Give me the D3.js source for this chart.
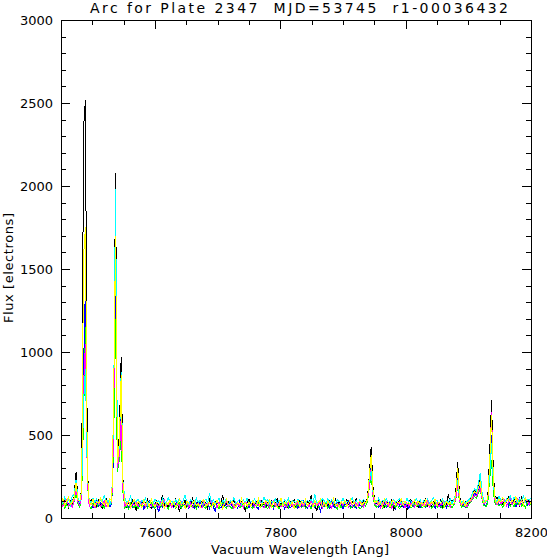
<!DOCTYPE html>
<html>
<head>
<meta charset="utf-8">
<script src="https://cdn.jsdelivr.net/npm/d3@7"></script>
<style>
body { margin: 0; background: #fff; }
svg text { font-family: "DejaVu Sans", sans-serif; fill: #000; white-space: pre; }
</style>
</head>
<body>
<script>
// wavelength grid [Ang]
var wave = [
  7450,7453,7456,7459,7462,7465,7468,7471,7474,7477,
  7480,7483,7486,7489,7492,7495,7498,7501,7504,7507,
  7510,7513,7516,7519,7522,7525,7528,7531,7534,7537,
  7540,7543,7546,7549,7552,7555,7558,7561,7564,7567,
  7570,7573,7576,7579,7582,7585,7588,7591,7594,7597,
  7600,7603,7606,7609,7612,7615,7618,7621,7624,7627,
  7630,7633,7636,7639,7642,7645,7648,7651,7654,7657,
  7660,7663,7666,7669,7672,7675,7678,7681,7684,7687,
  7690,7693,7696,7699,7702,7705,7708,7711,7714,7717,
  7720,7723,7726,7729,7732,7735,7738,7741,7744,7747,
  7750,7753,7756,7759,7762,7765,7768,7771,7774,7777,
  7780,7783,7786,7789,7792,7795,7798,7801,7804,7807,
  7810,7813,7816,7819,7822,7825,7828,7831,7834,7837,
  7840,7843,7846,7849,7852,7855,7858,7861,7864,7867,
  7870,7873,7876,7879,7882,7885,7888,7891,7894,7897,
  7900,7903,7906,7909,7912,7915,7918,7921,7924,7927,
  7930,7933,7936,7939,7942,7945,7948,7951,7954,7957,
  7960,7963,7966,7969,7972,7975,7978,7981,7984,7987,
  7990,7993,7996,7999,8002,8005,8008,8011,8014,8017,
  8020,8023,8026,8029,8032,8035,8038,8041,8044,8047,
  8050,8053,8056,8059,8062,8065,8068,8071,8074,8077,
  8080,8083,8086,8089,8092,8095,8098,8101,8104,8107,
  8110,8113,8116,8119,8122,8125,8128,8131,8134,8137,
  8140,8143,8146,8149,8152,8155,8158,8161,8164,8167,
  8170,8173,8176,8179,8182,8185,8188,8191,8194,8197,
  8200
];

// flux per fiber colour [electrons]
var fluxBlack = [
  95,72,118,88,64,102,85,130,275,120,
  92,180,2350,2520,300,86,110,74,96,68,
  104,82,58,90,115,78,92,110,600,2080,
  350,500,970,220,88,62,95,70,108,84,
  42,92,77,101,66,88,112,73,59,94,
  80,105,68,86,138,74,90,61,98,83,
  70,114,88,38,96,79,107,65,91,84,
  118,72,60,99,86,104,69,93,58,110,
  82,76,101,64,95,87,140,70,84,97,
  61,89,106,75,92,68,100,83,44,94,
  112,78,86,65,99,91,73,108,80,62,
  95,87,104,70,83,116,66,92,79,101,
  74,58,97,88,110,69,85,103,77,92,
  64,100,81,135,72,90,40,96,84,107,
  78,93,66,102,87,71,114,80,98,63,
  91,76,108,84,69,99,88,117,73,94,
  82,104,96,120,260,430,180,100,86,112,
  75,94,68,101,88,79,115,45,97,84,
  106,71,90,83,43,98,112,77,93,86,
  67,102,80,95,118,74,89,63,100,85,
  92,78,109,70,96,84,142,88,106,100,
  160,340,130,90,76,98,84,110,120,150,
  170,150,200,240,140,100,92,120,380,710,
  260,110,126,98,115,84,105,92,130,78,
  96,118,85,102,74,124,90,108,81,113,
  95
];
var fluxBlue = [
  78,104,66,92,85,70,112,110,200,100,
  84,150,900,1400,250,75,98,62,88,107,
  71,93,80,58,102,86,67,90,400,1400,
  300,400,750,180,72,94,58,81,66,99,
  85,62,74,96,53,80,69,103,77,60,
  92,71,38,84,66,97,75,52,88,70,
  63,86,99,72,60,91,68,80,55,94,
  74,57,89,67,102,64,83,71,96,59,
  87,68,40,90,76,61,82,98,65,73,
  95,70,62,86,58,101,74,66,89,77,
  60,93,71,84,67,55,96,79,63,88,
  72,64,90,57,81,75,99,68,86,54,
  97,78,61,73,66,92,59,84,70,101,
  82,57,76,69,95,63,88,74,41,90,
  67,85,79,58,98,71,62,93,76,84,
  55,89,68,100,73,64,81,59,96,75,
  70,92,85,100,200,330,140,80,97,64,
  88,72,95,61,79,104,66,83,57,91,
  74,98,63,86,70,59,93,77,68,82,
  96,60,84,73,65,99,71,87,78,58,
  83,95,66,89,74,62,90,69,101,80,
  130,260,110,70,88,64,92,90,100,130,
  150,140,170,200,120,80,73,100,300,500,
  200,90,104,76,93,118,82,99,71,110,
  86,102,69,94,120,78,88,107,73,96,
  84
];
var fluxGreen = [
  70,92,58,84,66,98,75,100,150,88,
  64,140,600,1150,220,72,55,86,78,61,
  90,67,74,59,95,70,83,85,450,1200,
  280,350,500,150,61,76,52,88,70,64,
  79,57,90,68,74,85,60,77,93,66,
  58,82,71,63,89,67,76,54,85,72,
  88,61,75,92,57,80,69,64,86,73,
  62,78,55,84,70,91,66,59,81,68,
  75,87,63,71,56,83,92,67,60,79,
  69,54,80,73,88,62,70,85,66,58,
  84,66,59,77,70,89,61,74,92,65,
  57,80,72,63,86,68,55,82,71,88,
  78,62,91,67,74,59,83,70,64,86,
  60,75,84,56,80,71,93,63,77,68,
  73,89,58,76,65,82,70,54,87,62,
  81,67,74,90,59,78,64,85,72,56,
  66,84,71,95,180,260,120,75,63,80,
  92,58,76,69,84,61,88,72,66,79,
  57,73,85,64,78,90,62,70,83,68,
  76,86,59,74,67,81,93,60,71,87,
  64,79,70,56,88,73,67,84,62,80,
  110,190,95,66,72,85,60,85,95,115,
  130,120,150,170,110,75,68,90,230,350,
  150,80,95,72,86,64,100,79,91,70,
  88,67,96,78,105,71,84,62,93,76,
  82
];
var fluxMagenta = [
  82,68,97,110,74,90,64,105,180,95,
  77,130,800,1050,230,68,92,80,60,88,
  99,72,85,106,66,93,80,95,500,1900,
  300,380,600,160,70,89,97,60,84,76,
  92,70,103,79,88,64,97,83,71,100,
  75,86,62,95,78,108,69,90,81,64,
  87,76,92,68,101,83,74,96,62,89,
  66,93,79,88,72,60,99,82,75,91,
  102,74,87,63,94,80,70,89,97,68,
  78,90,58,96,83,72,88,61,99,85,
  71,84,97,66,90,78,103,70,59,93,
  86,62,79,100,73,94,81,67,91,77,
  64,95,88,70,84,76,98,63,87,72,
  93,80,67,101,78,90,74,85,96,61,
  88,72,94,83,60,97,79,69,86,92,
  76,99,84,65,91,73,102,86,70,95,
  89,67,93,105,190,300,130,85,74,98,
  64,90,81,96,70,87,58,94,83,75,
  97,79,88,62,93,72,84,100,69,91,
  80,94,71,86,77,103,65,90,82,73,
  95,68,88,79,97,74,85,63,92,85,
  120,200,105,75,90,81,70,95,105,120,
  140,130,160,180,115,85,96,105,300,640,
  210,95,80,103,88,97,112,74,96,121,
  83,99,90,115,76,104,87,95,110,80,
  98
];
var fluxCyan = [
  104,86,125,97,112,80,135,140,230,118,
  96,160,700,900,260,108,88,120,94,116,
  83,110,99,140,90,105,78,115,650,1980,
  380,420,880,210,118,95,100,132,86,103,
  97,115,84,106,92,120,78,99,110,88,
  113,90,104,79,118,96,86,125,94,101,
  82,108,97,116,88,103,138,90,81,112,
  99,85,119,94,107,80,96,114,89,150,
  93,111,87,100,120,84,106,95,116,79,
  104,97,123,88,99,113,82,109,94,118,
  86,102,95,117,81,108,99,90,126,97,
  110,84,101,93,115,89,105,97,83,112,
  95,119,87,104,100,92,114,80,107,99,
  88,106,96,112,90,146,85,101,97,115,
  103,91,117,86,109,96,82,111,99,94,
  118,87,100,95,106,121,90,103,84,110,
  98,113,92,110,240,280,150,105,91,120,
  86,107,99,116,93,102,84,111,97,105,
  114,90,101,88,120,96,108,83,99,117,
  93,110,86,104,97,115,89,102,125,94,
  108,88,99,114,91,106,95,118,87,110,
  150,230,115,95,104,88,100,112,125,160,
  175,160,210,270,150,105,97,118,260,450,
  200,112,99,130,105,122,94,116,108,135,
  99,125,110,92,118,104,131,96,114,107,
  120
];
var fluxYellow = [
  88,115,74,100,126,82,96,120,210,110,
  102,170,1580,1750,280,94,81,113,70,99,
  86,120,93,76,108,64,117,100,700,1700,
  330,450,860,200,96,78,104,65,91,110,
  73,99,86,62,108,80,95,70,116,83,
  67,96,88,74,103,59,91,82,107,76,
  99,65,84,110,78,93,57,101,86,72,
  90,105,76,84,63,98,112,70,88,95,
  64,93,80,106,71,97,58,86,110,79,
  84,100,73,65,94,81,118,76,92,69,
  98,70,105,88,77,113,64,91,85,104,
  79,109,68,97,90,62,86,120,74,93,
  86,101,77,95,58,88,107,72,96,83,
  110,74,92,86,67,103,80,94,115,71,
  95,68,104,81,90,117,76,87,66,100,
  83,106,72,94,112,80,97,68,89,102,
  76,94,88,110,250,380,160,90,105,82,
  97,70,112,85,92,66,99,108,78,94,
  88,116,74,100,84,95,69,90,106,77,
  102,83,93,67,110,89,76,98,85,114,
  73,96,87,104,68,100,82,93,78,90,
  140,300,120,80,101,72,94,100,110,140,
  160,150,180,220,130,90,104,110,330,620,
  230,100,88,112,96,125,80,103,117,92,
  108,84,130,97,89,111,76,120,94,102,
  88
];

var seriesColors = ["#000000", "#0000ff", "#00ff00", "#ff00ff", "#00ffff", "#ffff00"];
var seriesFlux = [fluxBlack, fluxBlue, fluxGreen, fluxMagenta, fluxCyan, fluxYellow];

var xMajorTicks = [7600, 7800, 8000, 8200];
var xMinorTicks = [7500, 7550, 7650, 7700, 7750, 7850, 7900, 7950, 8050, 8100, 8150];
var yMajorTicks = [0, 500, 1000, 1500, 2000, 2500, 3000];
var yMinorTicks = [100, 200, 300, 400, 600, 700, 800, 900, 1100, 1200, 1300, 1400,
  1600, 1700, 1800, 1900, 2100, 2200, 2300, 2400, 2600, 2700, 2800, 2900];

var titleText = "Arc for Plate 2347  MJD=53745  r1-00036432";
var xLabel = "Vacuum Wavelength [Ang]";
var yLabel = "Flux [electrons]";

var width = 547, height = 558;
var margin = {top: 20, right: 16, bottom: 40, left: 61};
var plotW = width - margin.left - margin.right;
var plotH = height - margin.top - margin.bottom;

var svg = d3.select("body").append("svg")
    .attr("width", width)
    .attr("height", height);

var x = d3.scaleLinear().domain([7450, 8200]).range([0, plotW]);
var y = d3.scaleLinear().domain([0, 3000]).range([plotH, 0]);

var g = svg.append("g")
    .attr("transform", "translate(" + margin.left + "," + margin.top + ")");

g.append("clipPath").attr("id", "plot-clip")
    .append("rect").attr("width", plotW).attr("height", plotH);

var line = d3.line()
    .x(function(d, i) { return x(wave[i]); })
    .y(function(d) { return y(d); });

g.append("g")
    .attr("clip-path", "url(#plot-clip)")
    .selectAll("path")
    .data(seriesFlux)
    .enter().append("path")
    .attr("d", line)
    .attr("fill", "none")
    .attr("stroke", function(d, i) { return seriesColors[i]; })
    .attr("stroke-width", 1)
    .attr("shape-rendering", "crispEdges");

// ticks point inward on all four sides, IDL style
function styleAxis(sel) {
    sel.select(".domain").remove();
    sel.attr("font-family", null).attr("font-size", null);
    sel.selectAll("line").attr("stroke", "#000").attr("shape-rendering", "crispEdges");
    sel.selectAll("text").style("font-size", "13px");
}

g.append("g").attr("transform", "translate(0," + plotH + ")")
    .call(d3.axisBottom(x).tickValues(xMajorTicks).tickSize(-9).tickPadding(10).tickFormat(d3.format("d")))
    .call(styleAxis);
g.append("g").attr("transform", "translate(0," + plotH + ")")
    .call(d3.axisBottom(x).tickValues(xMinorTicks).tickSize(-5).tickFormat(""))
    .call(styleAxis);
g.append("g")
    .call(d3.axisTop(x).tickValues(xMajorTicks).tickSize(-9).tickFormat(""))
    .call(styleAxis);
g.append("g")
    .call(d3.axisTop(x).tickValues(xMinorTicks).tickSize(-5).tickFormat(""))
    .call(styleAxis);

g.append("g")
    .call(d3.axisLeft(y).tickValues(yMajorTicks).tickSize(-9).tickPadding(8).tickFormat(d3.format("d")))
    .call(styleAxis);
g.append("g")
    .call(d3.axisLeft(y).tickValues(yMinorTicks).tickSize(-5).tickFormat(""))
    .call(styleAxis);
g.append("g").attr("transform", "translate(" + plotW + ",0)")
    .call(d3.axisRight(y).tickValues(yMajorTicks).tickSize(-9).tickFormat(""))
    .call(styleAxis);
g.append("g").attr("transform", "translate(" + plotW + ",0)")
    .call(d3.axisRight(y).tickValues(yMinorTicks).tickSize(-5).tickFormat(""))
    .call(styleAxis);

g.append("rect")
    .attr("x", 0.5).attr("y", 0.5)
    .attr("width", plotW).attr("height", plotH)
    .attr("fill", "none")
    .attr("stroke", "#000")
    .attr("shape-rendering", "crispEdges");

svg.append("text")
    .attr("x", 299).attr("y", 13)
    .attr("text-anchor", "middle")
    .attr("textLength", 418)
    .attr("lengthAdjust", "spacing")
    .attr("xml:space", "preserve")
    .style("font-size", "14px")
    .text(titleText);

svg.append("text")
    .attr("x", 300).attr("y", 554)
    .attr("text-anchor", "middle")
    .attr("textLength", 178)
    .attr("lengthAdjust", "spacing")
    .style("font-size", "13px")
    .text(xLabel);

svg.append("text")
    .attr("transform", "translate(13,268) rotate(-90)")
    .attr("text-anchor", "middle")
    .attr("textLength", 110)
    .attr("lengthAdjust", "spacing")
    .style("font-size", "13px")
    .text(yLabel);
</script>
</body>
</html>
